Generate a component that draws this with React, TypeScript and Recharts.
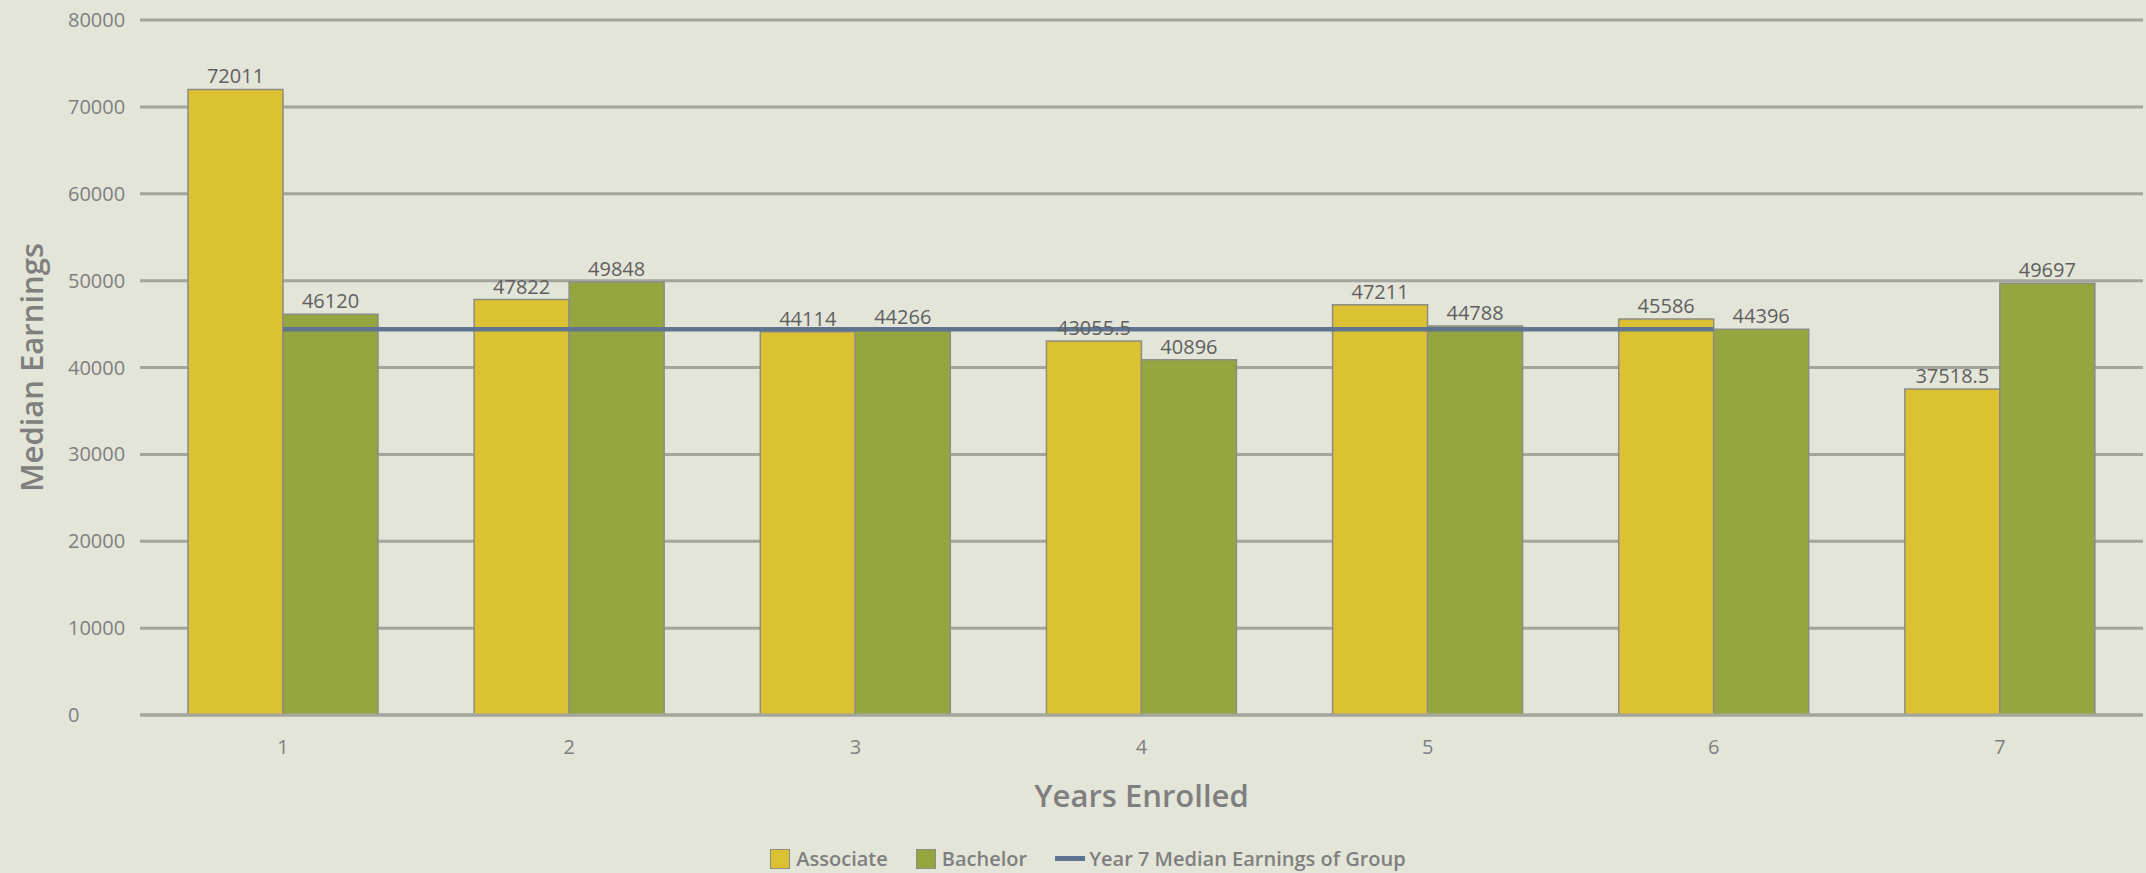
import React from 'react';
import { ComposedChart, Bar, Line, XAxis, YAxis, CartesianGrid, Legend, LabelList } from 'recharts';

const years = ['1', '2', '3', '4', '5', '6', '7'];
const associate = [72011, 47822, 44114, 43055.5, 47211, 45586, 37518.5];
const bachelor = [46120, 49848, 44266, 40896, 44788, 44396, 49697];
const groupMedian: (number | null)[] = [44400, 44400, 44400, 44400, 44400, 44400, null];
const yTicks = [0, 10000, 20000, 30000, 40000, 50000, 60000, 70000, 80000];

const data = years.map((year, i) => ({
  year,
  associate: associate[i],
  bachelor: bachelor[i],
  median: groupMedian[i],
}));

const FONT = '"Open Sans", "Liberation Sans", sans-serif';
const BG = '#e3e5d8';
const GRID = '#a4a59c';
const TEXT = '#7f7f7f';
const YELLOW = '#dcc133';
const GREEN = '#95a640';
const LINE = '#5f7491';
const BAR_STROKE = '#8d8d83';

const YTick = (props: any) => {
  const { x, y, payload } = props;
  return (
    <text x={x - 64} y={y} dy="0.355em" textAnchor="start" fill={TEXT} fontSize={20} fontFamily={FONT}>
      {payload.value}
    </text>
  );
};

const renderLegend = (props: any) => {
  const { payload } = props;
  return (
    <div
      style={{
        display: 'flex',
        justifyContent: 'center',
        alignItems: 'center',
        gap: 28,
        fontFamily: FONT,
        fontSize: 20,
        fontWeight: 600,
        color: TEXT,
      }}
    >
      {(payload || []).map((entry: any) => (
        <div key={entry.value} style={{ display: 'flex', alignItems: 'center' }}>
          {entry.type === 'line' ? (
            <span style={{ display: 'inline-block', width: 30, height: 5, background: entry.color, marginRight: 4 }} />
          ) : (
            <span
              style={{
                display: 'inline-block',
                width: 20,
                height: 20,
                background: entry.color,
                border: `1.5px solid ${BAR_STROKE}`,
                boxSizing: 'border-box',
                marginRight: 6,
              }}
            />
          )}
          <span>{entry.value}</span>
        </div>
      ))}
    </div>
  );
};

export default function App() {
  return (
    <div style={{ position: 'absolute', left: 0, top: 0, width: 2146, height: 873, background: BG }}>
      <ComposedChart
        width={2146}
        height={873}
        data={data}
        margin={{ top: 20, right: 3, left: 0, bottom: 128 }}
        barGap={0}
      >
        <CartesianGrid vertical={false} stroke={GRID} strokeWidth={3} />
        <XAxis
          dataKey="year"
          height={30}
          tickLine={false}
          axisLine={{ stroke: GRID, strokeWidth: 3 }}
          tick={{ fill: TEXT, fontSize: 20, fontFamily: FONT }}
          tickMargin={19}
          label={{
            value: 'Years Enrolled',
            position: 'bottom',
            offset: 40,
            fill: TEXT,
            fontSize: 31,
            fontWeight: 600,
            fontFamily: FONT,
          }}
        />
        <YAxis
          width={140}
          domain={[0, 80000]}
          ticks={yTicks}
          interval={0}
          axisLine={false}
          tickLine={false}
          tick={<YTick />}
          label={{
            value: 'Median Earnings',
            angle: -90,
            position: 'insideLeft',
            offset: 32,
            fill: TEXT,
            fontSize: 31,
            fontWeight: 600,
            fontFamily: FONT,
            style: { textAnchor: 'middle' },
          }}
        />
        <Legend
          layout="horizontal"
          verticalAlign="middle"
          align="center"
          content={renderLegend}
          wrapperStyle={{ left: 30, top: 845, width: 2116 }}
        />
        <Bar
          dataKey="associate"
          name="Associate"
          fill={YELLOW}
          stroke={BAR_STROKE}
          strokeWidth={1.5}
          barSize={95}
          legendType="square"
          isAnimationActive={false}
        >
          <LabelList dataKey="associate" position="top" offset={6} fill="#5f5f5f" fontSize={20} fontFamily={FONT} />
        </Bar>
        <Bar
          dataKey="bachelor"
          name="Bachelor"
          fill={GREEN}
          stroke={BAR_STROKE}
          strokeWidth={1.5}
          barSize={95}
          legendType="square"
          isAnimationActive={false}
        >
          <LabelList dataKey="bachelor" position="top" offset={6} fill="#5f5f5f" fontSize={20} fontFamily={FONT} />
        </Bar>
        <Line
          dataKey="median"
          name="Year 7 Median Earnings of Group"
          stroke={LINE}
          strokeWidth={4.5}
          dot={false}
          activeDot={false}
          legendType="line"
          isAnimationActive={false}
        />
      </ComposedChart>
    </div>
  );
}
